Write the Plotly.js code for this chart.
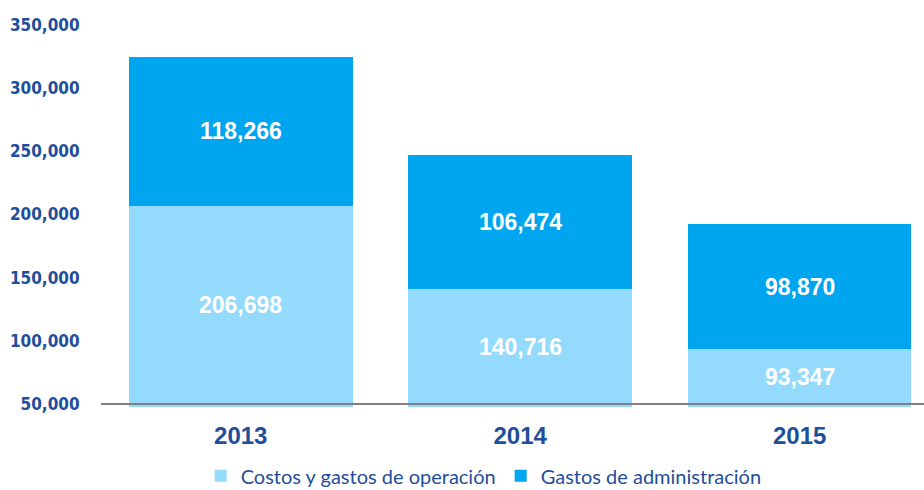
<!DOCTYPE html>
<html>
<head>
<meta charset="utf-8">
<script src="https://cdn.plot.ly/plotly-3.0.1.min.js"></script>
<style>html,body{margin:0;padding:0;background:#fff;}#chart{width:924px;height:490px;}</style>
</head>
<body>
<div id="chart"></div>
<script>
const years = ["2013", "2014", "2015"];
const costosOperacion = [206698, 140716, 93347];
const gastosAdministracion = [118266, 106474, 98870];
const yTicks = [50000, 100000, 150000, 200000, 250000, 300000, 350000];
const yTickLabels = ["50,000", "100,000", "150,000", "200,000", "250,000", "300,000", "350,000"];

const yMin = 47600, axisBase = 50000, yMax = 350000;
const labelFont = {family: "Liberation Sans, Arial, sans-serif", size: 23, color: "#ffffff", weight: "bold"};
const fmt = v => v.toLocaleString("en-US");

const traces = [
  {
    type: "bar", name: "Costos y gastos de operación", x: years, y: costosOperacion,
    marker: {color: "#93dafc"}, width: 0.8, hoverinfo: "none"
  },
  {
    type: "bar", name: "Gastos de administración", x: years, y: gastosAdministracion,
    marker: {color: "#00a5ef"}, width: 0.8, hoverinfo: "none"
  }
];

// labels centred on the visible part of each segment (x given as category index)
const annotations = [];
years.forEach((yr, i) => {
  const lo1 = axisBase, hi1 = costosOperacion[i];
  annotations.push({x: i, y: (lo1 + hi1) / 2, xref: "x", yref: "y", text: fmt(costosOperacion[i]),
    showarrow: false, font: labelFont});
  const lo2 = costosOperacion[i], hi2 = costosOperacion[i] + gastosAdministracion[i];
  annotations.push({x: i, y: (lo2 + hi2) / 2, xref: "x", yref: "y", text: fmt(gastosAdministracion[i]),
    showarrow: false, font: labelFont});
});

const layout = {
  width: 924, height: 490,
  margin: {l: 101, r: 0, t: 25, b: 83, autoexpand: false},
  barmode: "stack",
  paper_bgcolor: "#ffffff", plot_bgcolor: "#ffffff",
  showlegend: true,
  legend: {
    orientation: "h", x: 0.465, xanchor: "center", y: -0.18, yanchor: "middle",
    font: {family: "Lato, sans-serif", size: 20, color: "#1f4e9a"},
    traceorder: "normal", itemwidth: 30
  },
  annotations: annotations,
  xaxis: {
    type: "category", range: [-0.5, 2.445],
    showgrid: false, zeroline: false, showline: false,
    ticks: "outside", ticklen: 7, tickcolor: "rgba(0,0,0,0)",
    tickfont: {family: "Liberation Sans, Arial, sans-serif", size: 24, color: "#1f4e9a", weight: "bold"}
  },
  yaxis: {
    range: [yMin, yMax],
    tickvals: yTicks, ticktext: yTickLabels,
    showgrid: false, zeroline: false, showline: false,
    ticks: "outside", ticklen: 17, tickcolor: "rgba(0,0,0,0)",
    tickfont: {family: "DejaVu Sans Condensed, DejaVu Sans, sans-serif", size: 17, color: "#1f4e9a", weight: "bold"}
  },
  shapes: [
    {type: "line", xref: "paper", yref: "y", x0: 0, x1: 1, y0: axisBase, y1: axisBase,
     line: {color: "#808080", width: 2}, layer: "above"}
  ]
};

Plotly.newPlot("chart", traces, layout, {displayModeBar: false, staticPlot: true});
</script>
</body>
</html>
